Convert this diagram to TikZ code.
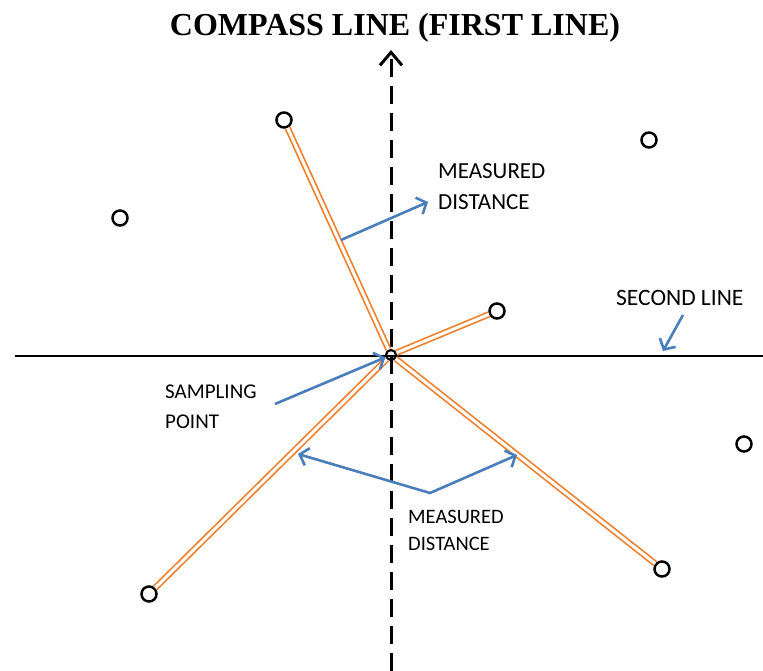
\documentclass[tikz,border=0pt]{standalone}
\usepackage{fontspec}
\setmainfont{Liberation Serif}
\newfontfamily\calfont{Carlito}
\usetikzlibrary{arrows.meta}
\definecolor{rayorange}{RGB}{240,128,45}
\definecolor{callblue}{RGB}{74,126,187}

\begin{document}
\begin{tikzpicture}[
  x=1pt, y=-1pt,
  tree/.style={draw, circle, line width=2.5pt, minimum size=15pt, inner sep=0pt},
  ray/.style={draw=rayorange, double=white, line width=1.7pt, double distance=3pt},
  callout/.style={draw=callblue, line width=2.6pt, -{Straight Barb[length=8pt,width=18pt]}},
  lbl/.style={align=left, anchor=north west, inner sep=0pt}
]
\useasboundingbox (0,0) rectangle (763,671);
\node[font=\bfseries\fontsize{32}{38}\selectfont, anchor=base] (title) at (395,36) {COMPASS LINE (FIRST LINE)};
\node[tree] (t1) at (284,120) {};
\node[tree] (t2) at (120,218) {};
\node[tree] (t3) at (649,140) {};
\node[tree] (t4) at (497,311) {};
\node[tree] (t5) at (744,444) {};
\node[tree] (t6) at (149,594) {};
\node[tree] (t7) at (662,569) {};
\node[draw, circle, line width=2.2pt, minimum size=10pt, inner sep=0pt] (sp) at (391,355) {};
\coordinate (west) at (15,356);
\coordinate (east) at (763,356);
\coordinate (south) at (391,671);
\coordinate (north) at (391,50);
\draw[line width=1.6pt] (west) -- (east);
\draw[line width=3pt, dash pattern=on 18pt off 9pt, -{Straight Barb[length=13pt,width=22pt]}] (south) -- (north);
\draw[ray] (sp) -- (t1);
\draw[ray] (sp) -- (t4);
\draw[ray] (sp) -- (t6);
\draw[ray] (sp) -- (t7);
\node[lbl, font=\calfont\fontsize{23}{31}\selectfont] (mdtop) at (438,163) {MEASURED\\DISTANCE};
\node[lbl, font=\calfont\fontsize{23.5}{28}\selectfont] (second) at (616,290) {SECOND LINE};
\node[lbl, font=\calfont\fontsize{21}{30}\selectfont] (sampling) at (165,385) {SAMPLING\\POINT};
\node[lbl, font=\calfont\fontsize{20.5}{27}\selectfont] (mdbot) at (408,509.5) {MEASURED\\DISTANCE};
\coordinate (m1) at (341,240);
\coordinate (m1tip) at (428,202);
\coordinate (s1) at (275,404);
\coordinate (b1) at (298,454);
\coordinate (bmid) at (430,493);
\coordinate (b2) at (517,455);
\coordinate (l1) at (683,315);
\coordinate (l1tip) at (663,351);
\draw[callout] (m1) -- (m1tip);
\draw[callout] (s1) -- (sp);
\draw[callout, {Straight Barb[length=8pt,width=18pt]}-{Straight Barb[length=8pt,width=18pt]}] (b1) -- (bmid) -- (b2);
\draw[callout] (l1) -- (l1tip);
\end{tikzpicture}
\end{document}
